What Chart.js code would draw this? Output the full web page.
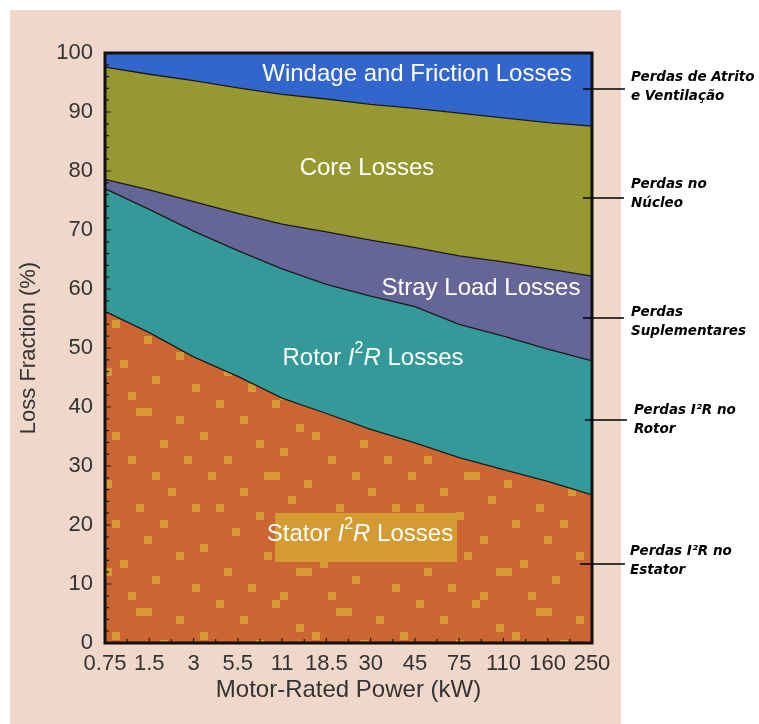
<!DOCTYPE html>
<html>
<head>
<meta charset="utf-8">
<script src="https://cdn.jsdelivr.net/npm/chart.js@4.4.1/dist/chart.umd.min.js"></script>
<style>
  html, body { margin: 0; padding: 0; background: #ffffff; }
  canvas { display: block; }
</style>
</head>
<body>
<canvas id="grafico" width="759" height="724"></canvas>
<script>
// potencias nominais (kW)
const categorias = ["0.75", "1.5", "3", "5.5", "11", "18.5", "30", "45", "75", "110", "160", "250"];

// parcela de cada perda (%)
const perdasEstator = [56.2, 52.6, 48.5, 45.2, 41.5, 38.9, 36.2, 33.9, 31.4, 29.4, 27.4, 25.1];
const perdasRotor = [20.8, 20.9, 21.3, 21.3, 21.9, 21.9, 22.6, 23.1, 22.6, 22.6, 22.4, 22.7];
const perdasSuplementares = [1.6, 3.3, 5.0, 6.3, 7.6, 8.9, 9.5, 10.0, 11.6, 12.6, 13.6, 14.4];
const perdasNucleo = [19.0, 19.6, 20.5, 21.3, 22.0, 22.5, 23.0, 23.6, 24.2, 24.4, 24.8, 25.4];
const perdasAtrito = [2.4, 3.6, 4.7, 5.9, 7.0, 7.8, 8.7, 9.4, 10.2, 11.0, 11.8, 12.4];

const yTicks = [0, 10, 20, 30, 40, 50, 60, 70, 80, 90, 100];

const FONTE = "'Liberation Sans', Arial, Helvetica, sans-serif";

// textura do estator (quadradinhos amarelos)
function padraoEstator(ctx) {
  const tile = document.createElement("canvas");
  tile.width = 200;
  tile.height = 200;
  const t = tile.getContext("2d");
  t.fillStyle = "#CB6633";
  t.fillRect(0, 0, 200, 200);
  t.fillStyle = "#D39B32";
  const celulas = [
    [2,0],[9,0],[17,1],[18,1],[22,2],[5,2],[12,3],[0,4],[14,4],[20,5],[7,5],[3,7],[10,6],[16,7],[23,7],
    [1,9],[8,9],[9,9],[19,9],[13,10],[5,11],[21,11],[11,12],[17,13],[2,13],[24,13],[7,14],[14,15],[20,15],
    [4,16],[10,17],[18,17],[0,18],[22,19],[8,19],[15,20],[3,21],[12,21],[13,21],[19,22],[6,23],[24,23],[10,24],[16,24]
  ];
  celulas.forEach(([c, r]) => t.fillRect(c * 8, r * 8, 8, 8));
  return ctx.createPattern(tile, "repeat");
}

const ctx = document.getElementById("grafico").getContext("2d");

function serie(label, data, cor, fill) {
  return {
    label: label,
    data: data,
    backgroundColor: cor,
    borderColor: "#1a1a1a",
    borderWidth: 1.3,
    pointRadius: 0,
    tension: 0,
    fill: fill
  };
}

// texto com partes em italico / sobrescrito
function textoRico(c, partes, cx, cy) {
  let total = 0;
  partes.forEach(p => { c.font = p.font; total += c.measureText(p.t).width; });
  let x = cx - total / 2;
  c.textAlign = "left";
  partes.forEach(p => {
    c.font = p.font;
    c.fillText(p.t, x, cy + (p.dy || 0));
    x += c.measureText(p.t).width;
  });
  return total;
}

const desenhos = {
  id: "desenhos",
  beforeDraw(chart) {
    const c = chart.ctx;
    c.save();
    c.fillStyle = "#ffffff";
    c.fillRect(0, 0, chart.width, chart.height);
    c.fillStyle = "#EFD7C9";
    c.fillRect(10, 10, 611, chart.height - 10);
    c.restore();
  },
  afterDatasetsDraw(chart) {
    const c = chart.ctx;
    const a = chart.chartArea;
    const xs = chart.scales.x;
    const ys = chart.scales.y;
    c.save();

    // rotulos internos
    c.fillStyle = "#ffffff";
    c.textBaseline = "middle";
    c.textAlign = "center";
    c.font = "24px " + FONTE;
    c.fillText("Windage and Friction Losses", 417, 74);
    c.fillText("Core Losses", 367, 168);
    c.fillText("Stray Load Losses", 481, 288);

    const normal = "24px " + FONTE;
    const ital = "italic 24px " + FONTE;
    const sup = "16px " + FONTE;
    textoRico(c, [
      { t: "Rotor ", font: normal },
      { t: "I", font: ital },
      { t: "2", font: sup, dy: -9 },
      { t: "R", font: ital },
      { t: " Losses", font: normal }
    ], 373, 358);

    c.fillStyle = "#D39B32";
    c.fillRect(275, 513, 182, 49);
    c.fillStyle = "#ffffff";
    textoRico(c, [
      { t: "Stator ", font: normal },
      { t: "I", font: ital },
      { t: "2", font: sup, dy: -9 },
      { t: "R", font: ital },
      { t: " Losses", font: normal }
    ], 360, 534);

    // marcas internas dos eixos
    c.strokeStyle = "#1a1a1a";
    c.lineWidth = 1.2;
    c.beginPath();
    for (let v = 0; v <= 100; v += 2) {
      const y = ys.getPixelForValue(v);
      const len = v % 10 === 0 ? 6 : 4;
      c.moveTo(a.left, y);
      c.lineTo(a.left + len, y);
    }
    for (let i = 0; i < categorias.length; i++) {
      const x = xs.getPixelForValue(i);
      c.moveTo(x, a.bottom);
      c.lineTo(x, a.bottom - 5);
      if (i < categorias.length - 1) {
        const xm = (x + xs.getPixelForValue(i + 1)) / 2;
        c.moveTo(xm, a.bottom);
        c.lineTo(xm, a.bottom - 4);
      }
    }
    c.stroke();

    // moldura
    c.strokeStyle = "#111111";
    c.lineWidth = 3;
    c.strokeRect(a.left, a.top, a.right - a.left, a.bottom - a.top);

    // linhas de chamada e legendas em portugues
    c.lineWidth = 1.5;
    c.strokeStyle = "#000000";
    const chamadas = [
      { y: 89, x0: 583, x1: 625, tx: 631, l: ["Perdas de Atrito", "e Ventilação"], ty: 77 },
      { y: 198, x0: 583, x1: 624, tx: 631, l: ["Perdas no", "Núcleo"], ty: 184 },
      { y: 318, x0: 583, x1: 624, tx: 631, l: ["Perdas", "Suplementares"], ty: 312 },
      { y: 420, x0: 585, x1: 627, tx: 634, l: ["Perdas I²R no", "Rotor"], ty: 410 },
      { y: 564, x0: 580, x1: 625, tx: 630, l: ["Perdas I²R no", "Estator"], ty: 551 }
    ];
    c.fillStyle = "#000000";
    c.textAlign = "left";
    c.textBaseline = "middle";
    c.font = "italic bold 13.5px 'DejaVu Sans', sans-serif";
    chamadas.forEach(ch => {
      c.beginPath();
      c.moveTo(ch.x0, ch.y);
      c.lineTo(ch.x1, ch.y);
      c.stroke();
      ch.l.forEach((linha, k) => c.fillText(linha, ch.tx, ch.ty + k * 19));
    });

    c.restore();
  }
};

new Chart(ctx, {
  type: "line",
  data: {
    labels: categorias,
    datasets: [
      serie("Stator I²R Losses", perdasEstator, padraoEstator(ctx), "origin"),
      serie("Rotor I²R Losses", perdasRotor, "#349A99", "-1"),
      serie("Stray Load Losses", perdasSuplementares, "#666598", "-1"),
      serie("Core Losses", perdasNucleo, "#989833", "-1"),
      serie("Windage and Friction Losses", perdasAtrito, "#3366CC", "-1")
    ]
  },
  options: {
    responsive: false,
    devicePixelRatio: 1,
    animation: false,
    layout: { padding: { top: 53, right: 167, left: 0, bottom: 0 } },
    plugins: {
      legend: { display: false },
      tooltip: { enabled: false }
    },
    scales: {
      x: {
        type: "category",
        offset: false,
        grid: { display: false, drawTicks: false },
        border: { display: false },
        ticks: {
          color: "#333333",
          font: { family: FONTE, size: 22 },
          padding: 8,
          maxRotation: 0,
          autoSkip: false
        },
        title: {
          display: true,
          text: "Motor-Rated Power (kW)",
          color: "#333333",
          font: { family: FONTE, size: 24, lineHeight: 1 },
          padding: { top: 0, bottom: 22 }
        },
        afterFit(scale) { scale.height = 81; }
      },
      y: {
        stacked: true,
        min: 0,
        max: 100,
        grid: { display: false, drawTicks: false },
        border: { display: false },
        afterBuildTicks(scale) { scale.ticks = yTicks.map(v => ({ value: v })); },
        ticks: {
          color: "#333333",
          font: { family: FONTE, size: 22 },
          padding: 12
        },
        title: {
          display: true,
          text: "Loss Fraction (%)",
          color: "#333333",
          font: { family: FONTE, size: 22, lineHeight: 1 },
          padding: { top: 18, bottom: 0 }
        },
        afterFit(scale) { scale.width = 105; }
      }
    }
  },
  plugins: [desenhos]
});
</script>
</body>
</html>
